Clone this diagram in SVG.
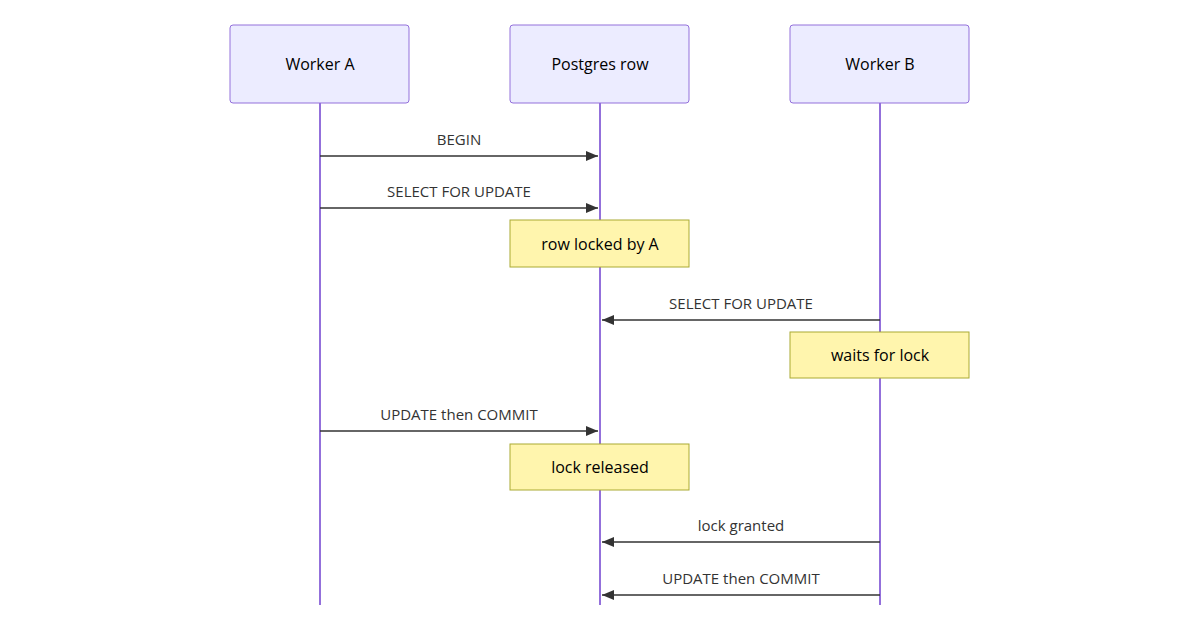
<svg xmlns="http://www.w3.org/2000/svg" width="1200" height="630" viewBox="0 0 1200 630">
<style>
.actor{fill:#ECECFF;stroke:#9370DB;stroke-width:1}
.life{stroke:#9370DB;stroke-width:2}
.note{fill:#FFF5AD;stroke:#AAAA33;stroke-width:1}
text{font-family:"Open Sans","DejaVu Sans",sans-serif;text-anchor:middle}
.at{font-size:16px;fill:#000}
.ml{font-size:15px;fill:#333}
.msg{stroke:#333;stroke-width:1.5;fill:none;marker-end:url(#ah)}
</style>
<defs><marker id="ah" viewBox="0 0 12 10" refX="12" refY="5" markerWidth="12" markerHeight="10" markerUnits="userSpaceOnUse" orient="auto"><path d="M0,0L12,5L0,10z" fill="#333"/></marker></defs>
<rect width="1200" height="630" fill="#fff"/>
<g id="lifelines"><line class="life" x1="320" y1="103" x2="320" y2="605"/><line class="life" x1="600" y1="103" x2="600" y2="605"/><line class="life" x1="880" y1="103" x2="880" y2="605"/></g>
<g id="workerA"><rect class="actor" x="230" y="25" width="179" height="78" rx="3"/><text class="at" x="320" y="70">Worker A</text></g>
<g id="postgres"><rect class="actor" x="510" y="25" width="179" height="78" rx="3"/><text class="at" x="600" y="70">Postgres row</text></g>
<g id="workerB"><rect class="actor" x="790" y="25" width="179" height="78" rx="3"/><text class="at" x="880" y="70">Worker B</text></g>
<g id="connectors">
<line class="msg" x1="320" y1="156" x2="598" y2="156"/><text class="ml" x="459" y="145">BEGIN</text>
<line class="msg" x1="320" y1="208" x2="598" y2="208"/><text class="ml" x="459" y="197">SELECT FOR UPDATE</text>
<line class="msg" x1="880" y1="320" x2="602" y2="320"/><text class="ml" x="741" y="309">SELECT FOR UPDATE</text>
<line class="msg" x1="320" y1="431" x2="598" y2="431"/><text class="ml" x="459" y="420">UPDATE then COMMIT</text>
<line class="msg" x1="880" y1="542" x2="602" y2="542"/><text class="ml" x="741" y="531">lock granted</text>
<line class="msg" x1="880" y1="595" x2="602" y2="595"/><text class="ml" x="741" y="584">UPDATE then COMMIT</text>
</g>
<g id="note1"><rect class="note" x="510" y="220" width="179" height="47"/><text class="at" x="600" y="250">row locked by A</text></g>
<g id="note2"><rect class="note" x="790" y="332" width="179" height="46"/><text class="at" x="880" y="361">waits for lock</text></g>
<g id="note3"><rect class="note" x="510" y="444" width="179" height="46"/><text class="at" x="600" y="473">lock released</text></g>
</svg>
